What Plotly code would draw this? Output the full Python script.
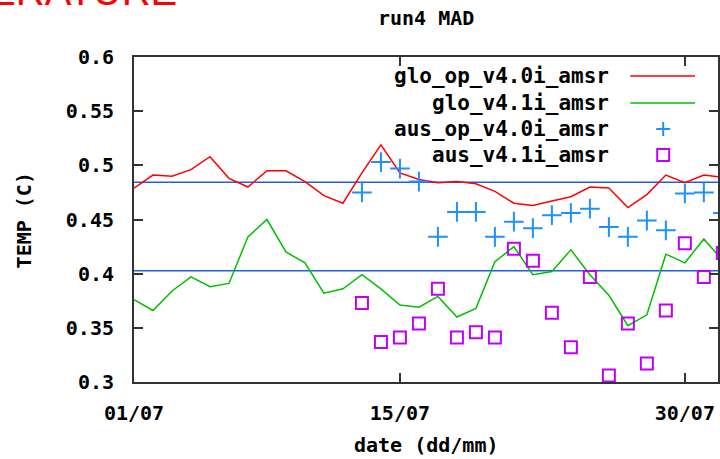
import plotly.graph_objects as go

# ---- data (day of July) ----
days = list(range(1, 33))
glo_op_v40 = [0.479, 0.491, 0.490, 0.496, 0.508, 0.488, 0.480, 0.495, 0.495, 0.485,
              0.472, 0.465, 0.493, 0.519, 0.493, 0.487, 0.484, 0.485, 0.483, 0.476,
              0.465, 0.463, 0.467, 0.471, 0.480, 0.479, 0.461, 0.473, 0.491, 0.484,
              0.491, 0.489]
glo_v41 = [0.376, 0.366, 0.384, 0.397, 0.388, 0.391, 0.434, 0.450, 0.420, 0.410,
           0.382, 0.386, 0.399, 0.386, 0.371, 0.369, 0.379, 0.360, 0.368, 0.411,
           0.425, 0.399, 0.402, 0.422, 0.399, 0.380, 0.352, 0.362, 0.418, 0.410,
           0.432, 0.412]
aus_days = list(range(13, 33))
aus_op_v40 = [0.475, 0.503, 0.497, 0.485, 0.434, 0.457, 0.457, 0.434, 0.448, 0.442,
              0.454, 0.456, 0.460, 0.443, 0.434, 0.449, 0.440, 0.474, 0.475, 0.456]
aus_v41 = [0.373, 0.337, 0.341, 0.354, 0.386, 0.341, 0.346, 0.341, 0.423, 0.412,
           0.364, 0.332, 0.397, 0.306, 0.354, 0.317, 0.366, 0.428, 0.397, 0.419]
mean_glo_op = 0.4845
mean_glo_v41 = 0.4028

x_tickvals = [1, 15, 30]
x_ticktext = ["01/07", "15/07", "30/07"]
legend_names = ["glo_op_v4.0i_amsr", "glo_v4.1i_amsr", "aus_op_v4.0i_amsr", "aus_v4.1i_amsr"]

RED = "#ff0000"
GREEN = "#00c000"
BLUE = "#1e90ff"
PURPLE = "#c000ff"
MEANBLUE = "#2060e0"

W, H = 720, 459
L, R, T, B = 134, 720, 57, 382

def px(xp):
    return (xp - L) / (R - L)

def py(yp):
    return (B - yp) / (B - T)

FONT = dict(family="DejaVu Sans Mono", size=20, color="black", weight="bold")
LEGFONT = dict(family="DejaVu Sans Mono", size=21, color="black", weight="bold")

fig = go.Figure()
fig.add_trace(go.Scatter(x=days, y=[mean_glo_op] * len(days), mode="lines",
                         line=dict(color=MEANBLUE, width=1.5), showlegend=False))
fig.add_trace(go.Scatter(x=days, y=[mean_glo_v41] * len(days), mode="lines",
                         line=dict(color=MEANBLUE, width=1.5), showlegend=False))
fig.add_trace(go.Scatter(x=days, y=glo_op_v40, mode="lines", name=legend_names[0],
                         line=dict(color=RED, width=1.5), showlegend=False))
fig.add_trace(go.Scatter(x=days, y=glo_v41, mode="lines", name=legend_names[1],
                         line=dict(color=GREEN, width=1.5), showlegend=False))
fig.add_trace(go.Scatter(x=aus_days, y=aus_op_v40, mode="markers", name=legend_names[2],
                         marker=dict(symbol="cross-thin", size=14,
                                     line=dict(color=BLUE, width=2)), showlegend=False))
fig.add_trace(go.Scatter(x=aus_days, y=aus_v41, mode="markers", name=legend_names[3],
                         marker=dict(symbol="square-open", size=12, color=PURPLE,
                                     line=dict(color=PURPLE, width=2)), showlegend=False))

annotations = []
shapes = []
# manual gnuplot-style legend (text right-aligned, sample on the right)
rows_y = [76, 103, 129, 155]
for name, yy in zip(legend_names, rows_y):
    annotations.append(dict(xref="paper", yref="paper", x=px(613), y=py(yy),
                            text=name, showarrow=False, xanchor="right",
                            yanchor="middle", font=LEGFONT))
shapes.append(dict(type="line", xref="paper", yref="paper", x0=px(632), x1=px(697),
                   y0=py(rows_y[0]), y1=py(rows_y[0]), line=dict(color=RED, width=1.5)))
shapes.append(dict(type="line", xref="paper", yref="paper", x0=px(632), x1=px(697),
                   y0=py(rows_y[1]), y1=py(rows_y[1]), line=dict(color=GREEN, width=1.5)))
shapes.append(dict(type="line", xref="paper", yref="paper", x0=px(658), x1=px(672),
                   y0=py(rows_y[2]), y1=py(rows_y[2]), line=dict(color=BLUE, width=2)))
shapes.append(dict(type="line", xref="paper", yref="paper", x0=px(665), x1=px(665),
                   y0=py(rows_y[2] - 7), y1=py(rows_y[2] + 7), line=dict(color=BLUE, width=2)))
shapes.append(dict(type="rect", xref="paper", yref="paper", x0=px(659), x1=px(671),
                   y0=py(rows_y[3] - 6), y1=py(rows_y[3] + 6), line=dict(color=PURPLE, width=2)))

# titles
annotations.append(dict(xref="paper", yref="paper", x=px(427), y=py(18), text="run4 MAD",
                        showarrow=False, xanchor="center", yanchor="middle", font=FONT))
annotations.append(dict(xref="paper", yref="paper", x=px(427), y=py(445), text="date (dd/mm)",
                        showarrow=False, xanchor="center", yanchor="middle", font=FONT))
annotations.append(dict(xref="paper", yref="paper", x=px(24), y=py(220), text="TEMP (C)",
                        showarrow=False, xanchor="center", yanchor="middle", textangle=-90,
                        font=FONT))
# cut-off red heading at the top-left
annotations.append(dict(xref="paper", yref="paper", x=px(179), y=py(15), text="TEMPERATURE",
                        showarrow=False, xanchor="right", yanchor="bottom",
                        font=dict(family="Liberation Sans", size=40, color=RED)))

axis_common = dict(showgrid=False, zeroline=False, showline=True, linecolor="#333333",
                   linewidth=2, ticks="inside", ticklen=9, tickwidth=2, tickcolor="#333333",
                   mirror="ticks", tickfont=FONT)

fig.update_layout(
    width=W, height=H,
    margin=dict(l=L, r=W - R, t=T, b=H - B),
    paper_bgcolor="white", plot_bgcolor="white",
    xaxis=dict(range=[1, 31.745], tickvals=x_tickvals, ticktext=x_ticktext,
               ticklabelstandoff=12, **axis_common),
    yaxis=dict(range=[0.3, 0.6], dtick=0.05, tick0=0.3, ticklabelstandoff=14,
               **axis_common),
    annotations=annotations, shapes=shapes, showlegend=False,
)

fig.write_html("out.html", config={"displayModeBar": False},
               post_script="document.body.style.margin='0';")
